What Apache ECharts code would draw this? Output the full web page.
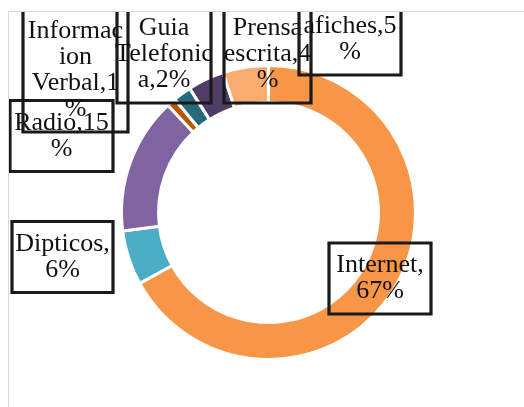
<!DOCTYPE html>
<html>
<head>
<meta charset="utf-8">
<title>Medios</title>
<script src="https://cdn.jsdelivr.net/npm/echarts@6/dist/echarts.min.js"></script>
<style>
  html, body { margin: 0; padding: 0; background: #fff; }
  #main { width: 524px; height: 407px; }
</style>
</head>
<body>
<div id="main"></div>
<script>
// datos del grafico (orden de Excel, empieza arriba y gira a la derecha)
var categorias = ['Internet', 'Dipticos', 'Radio', 'Informacion Verbal', 'Guia Telefonica', 'Prensa escrita', 'afiches'];
var valores = [67, 6, 15, 1, 2, 4, 5];
var colores = ['#F79646', '#4BACC6', '#8064A2', '#B65708', '#276A7C', '#4F3D68', '#F9AC6E'];
// texto de las etiquetas tal como lo corta Excel
var etiquetas = ['Internet,\n67%', 'Dipticos,\n6%', 'Radio,15\n%', 'Informac\nion\nVerbal,1\n%', 'Guia\nTelefonic\na,2%', 'Prensa\nescrita,4\n%', 'afiches,5\n%'];

// posicion (centro de la caja) y ancho de cada etiqueta
var posEtiqueta = [[380, 278.5], [62.5, 257], [61.5, 136], [75.5, 70.5], [164, 54.5], [267.5, 54.5], [350, 39.5]];
var anchoEtiqueta = [102, 101, 103, 105, 94, 87, 102];

var myChart = echarts.init(document.getElementById('main'));

var datos = [];
for (var i = 0; i < categorias.length; i++) {
	datos.push({
		name: categorias[i],
		value: valores[i],
		itemStyle: { color: colores[i] },
		label: { width: anchoEtiqueta[i] }
	});
}

var option = {
	animation: false,
	graphic: [
		// tapa la parte de arriba (las etiquetas quedan cortadas)
		{ type: 'rect', z: 100, shape: { x: 0, y: 0, width: 524, height: 11.5 }, style: { fill: '#fff' } },
		{ type: 'line', z: 101, shape: { x1: 8.5, y1: 11.5, x2: 524, y2: 11.5 }, style: { stroke: '#D9D9D9', lineWidth: 1 } },
		{ type: 'line', z: 101, shape: { x1: 8.5, y1: 11.5, x2: 8.5, y2: 407 }, style: { stroke: '#D9D9D9', lineWidth: 1 } }
	],
	series: [
		{
			type: 'pie',
			center: [268.5, 212.5],
			radius: [110, 147],
			startAngle: 90,
			clockwise: true,
			avoidLabelOverlap: false,
			itemStyle: {
				borderColor: '#fff',
				borderWidth: 3
			},
			label: {
				show: true,
				position: 'outside',
				formatter: function (p) {
					return etiquetas[p.dataIndex];
				},
				fontFamily: 'Liberation Serif',
				fontSize: 26,
				lineHeight: 26,
				color: '#111',
				align: 'center',
				overflow: 'none',
				backgroundColor: 'transparent',
				borderColor: '#1a1a1a',
				borderWidth: 1.6,
				padding: [9, 0, 10, 0]
			},
			labelLine: { show: false },
			labelLayout: function (params) {
				var p = posEtiqueta[params.dataIndex];
				return {
					x: p[0],
					y: p[1],
					align: 'center',
					verticalAlign: 'middle'
				};
			},
			data: datos
		}
	]
};

myChart.setOption(option);
</script>
</body>
</html>
